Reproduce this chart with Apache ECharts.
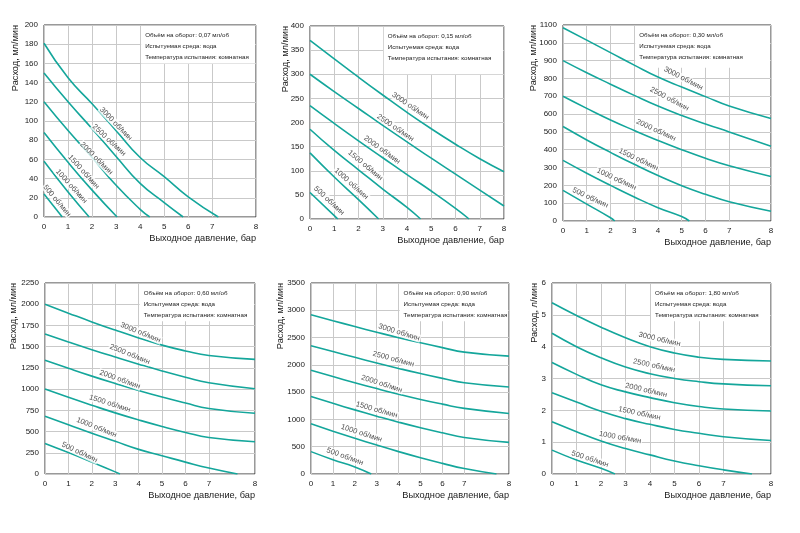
<!DOCTYPE html>
<html>
<head>
<meta charset="utf-8">
<script src="https://cdn.jsdelivr.net/npm/echarts@6/dist/echarts.min.js"></script>
<style>
  html, body { margin: 0; background: #fff; }
  #chart { width: 800px; height: 533px; }
</style>
</head>
<body>
<div id="chart"></div>
<script>
// --- data -------------------------------------------------------------
const pressureTicks = [0, 1, 2, 3, 4, 5, 6, 7, 8];
const speeds = [500, 1000, 1500, 2000, 2500, 3000];
const volumes = ['0,07', '0,15', '0,30', '0,60', '0,90', '1,80'];
const flowUnits = ['мл/мин', 'мл/мин', 'мл/мин', 'мл/мин', 'мл/мин', 'л/мин'];
const yMaxes = [200, 400, 1100, 2250, 3500, 6];
const ySteps = [20, 50, 100, 250, 500, 1];

// flow read at pressure 0, 1, 2 … bar, one row per speed (500 … 3000 об/мин)
const flow007 = [[24], [58, 26], [88, 57, 28], [120, 90, 62, 33, 8],
  [150, 120, 92, 63, 35, 15], [181, 145, 118, 90, 62, 42, 21]];
const flow015 = [[55, 7], [137, 87, 40], [186, 142, 102, 62, 24],
  [235, 198, 162, 127, 92, 58, 22],
  [300, 264, 229, 194, 160, 126, 93, 60, 27],
  [370, 332, 294, 257, 221, 187, 155, 125, 98]];
const flow030 = [[172, 95, 18], [340, 268, 200, 135, 75, 25],
  [530, 455, 385, 318, 255, 198, 150, 108, 55],
  [700, 632, 567, 508, 452, 400, 352, 310, 250],
  [900, 832, 768, 705, 645, 592, 545, 500, 420],
  [1085, 1015, 945, 875, 808, 752, 698, 645, 575]];
const flow060 = [[360, 252, 140, 25], [680, 580, 480, 385, 290, 215, 140, 70],
  [1000, 903, 810, 720, 637, 560, 490, 430, 380],
  [1340, 1245, 1153, 1066, 983, 906, 836, 772, 715],
  [1650, 1556, 1465, 1378, 1294, 1214, 1140, 1075, 1005],
  [2000, 1895, 1792, 1695, 1603, 1518, 1450, 1395, 1350]];
const flow090 = [[410, 262, 130], [920, 785, 655, 530, 410, 298, 195, 100],
  [1420, 1295, 1175, 1060, 950, 848, 755, 670, 580],
  [1900, 1785, 1673, 1565, 1462, 1366, 1280, 1202, 1110],
  [2350, 2243, 2138, 2035, 1935, 1840, 1752, 1672, 1595],
  [2920, 2810, 2702, 2598, 2498, 2404, 2316, 2234, 2160]];
const flow180 = [[0.75, 0.44, 0.18], [1.64, 1.33, 1.04, 0.8, 0.6, 0.41, 0.26, 0.13],
  [2.55, 2.26, 1.97, 1.74, 1.56, 1.4, 1.28, 1.17, 1.05],
  [3.5, 3.13, 2.8, 2.58, 2.4, 2.24, 2.12, 2.04, 1.98],
  [4.42, 4.0, 3.65, 3.36, 3.15, 3.0, 2.9, 2.83, 2.77],
  [5.38, 4.98, 4.61, 4.28, 4.0, 3.8, 3.67, 3.6, 3.55]];

// pressure (bar) where each curve reaches zero flow, null = stays above 0
const zero007 = [0.76, 1.88, 3.04, 4.4, 5.79, 7.14];
const zero015 = [1.15, 2.83, 4.56, 6.56, null, null];
const zero030 = [2.18, 5.32, null, null, null, null];
const zero060 = [3.2, 7.62, null, null, null, null];
const zero090 = [2.75, 7.72, null, null, null, null];
const zero180 = [2.57, 7.6, null, null, null, null];

const flows = [flow007, flow015, flow030, flow060, flow090, flow180];
const zeros = [zero007, zero015, zero030, zero060, zero090, zero180];

// --- layout -------------------------------------------------------------
// the 7..8 bar span is drawn wider than the others in the original, xEnd
// is where "8" sits in units of one ordinary span
const layout = [
  { grid: [44, 25, 212, 192], xEnd: 8.82, box: [4, 160], nameDx: 29,
    tags: [[0.54, 17, -50], [1.14, 32, -48], [1.65, 47, -48], [2.18, 61, -45], [2.71, 80, -43], [2.99, 97, -46]] },
  { grid: [310, 26, 194, 193], xEnd: 8.0, box: [3, 300], nameDx: 25,
    tags: [[0.79, 38, -43], [1.7, 73, -42], [2.28, 111, -40], [2.97, 143, -36], [3.52, 189, -34], [4.14, 234, -34]] },
  { grid: [563, 25, 208, 196], xEnd: 8.76, box: [3, 860], nameDx: 30,
    tags: [[1.15, 130, -25], [2.25, 235, -25], [3.18, 345, -25], [3.92, 510, -25], [4.48, 685, -28], [5.07, 800, -27]] },
  { grid: [45, 283, 210, 191], xEnd: 8.97, box: [4, 1800], nameDx: 32,
    tags: [[1.48, 255, -25], [2.2, 548, -22], [2.77, 830, -18], [3.2, 1113, -20], [3.62, 1410, -22], [4.08, 1665, -22]] },
  { grid: [311, 283, 198, 191], xEnd: 9.04, box: [4, 2800], nameDx: 31,
    tags: [[1.55, 318, -20], [2.31, 747, -18], [3.0, 1175, -16], [3.23, 1652, -18], [3.76, 2105, -15], [4.02, 2595, -17]] },
  { grid: [552, 283, 219, 191], xEnd: 8.94, box: [4, 4.8], nameDx: 18,
    tags: [[1.55, 0.47, -18], [2.78, 1.15, -10], [3.57, 1.9, -12], [3.84, 2.63, -13], [4.17, 3.4, -12], [4.39, 4.23, -13]] },
];

const FONT = "'Liberation Sans', Arial, sans-serif";
const TEAL = '#14a69b';
const INK = '#1a1a1a';

const toAxis = (p, xEnd) => (p <= 7 ? p : 7 + (p - 7) * (xEnd - 7));

const grids = [], xAxes = [], yAxes = [], series = [], graphics = [];

layout.forEach((lay, i) => {
  const [left, top, width, height] = lay.grid;
  const yMax = yMaxes[i];
  const tickValues = pressureTicks.map((p) => toAxis(p, lay.xEnd));

  grids.push({ left, top, width, height, show: true, borderColor: '#333', borderWidth: 1, outerBoundsMode: 'none' });

  xAxes.push({
    gridIndex: i, type: 'value', min: 0, max: lay.xEnd,
    name: 'Выходное давление, бар', nameLocation: 'end', nameGap: 0,
    nameTextStyle: { fontSize: 9.2, color: INK, align: 'right', verticalAlign: 'top', padding: [17, 0, 0, 0] },
    axisLine: { show: false },
    axisTick: { show: false, customValues: tickValues },
    axisLabel: {
      customValues: tickValues, fontSize: 8, color: INK, margin: 6,
      formatter: (v) => String(pressureTicks[tickValues.findIndex((t) => Math.abs(t - v) < 1e-6)]),
    },
    splitLine: { lineStyle: { color: '#c9c9c9', width: 1 } },
  });

  yAxes.push({
    gridIndex: i, type: 'value', min: 0, max: yMax, interval: ySteps[i],
    axisLine: { show: false },
    axisTick: { show: false },
    axisLabel: { fontSize: 8, color: INK, margin: 6, formatter: (v) => String(v) },
    splitLine: { lineStyle: { color: '#c9c9c9', width: 1 } },
  });

  // y axis title, rotated, hanging down from the top of the frame
  graphics.push({
    type: 'text', x: left - lay.nameDx, y: top, rotation: Math.PI / 2, silent: true,
    style: { text: 'Расход, ' + flowUnits[i], font: '9.2px ' + FONT, fill: INK, align: 'right', verticalAlign: 'middle' },
  });

  speeds.forEach((speed, k) => {
    const vals = flows[i][k];
    const pts = vals.map((v, j) => [toAxis(pressureTicks[j], lay.xEnd), v]);
    if (zeros[i][k] != null) pts.push([toAxis(zeros[i][k], lay.xEnd), 0]);
    series.push({
      type: 'line', name: speed + ' об/мин', xAxisIndex: i, yAxisIndex: i,
      data: pts, showSymbol: false, smooth: 0.5,
      lineStyle: { color: TEAL, width: 1.6 }, silent: true, z: 2,
    });
  });

  // one px in data units, keeps the white note box inside the frame
  const px = lay.xEnd / width, py = yMax / height;
  series.push({
    type: 'scatter', xAxisIndex: i, yAxisIndex: i, symbolSize: 0, silent: true, z: 4,
    data: lay.tags.map((t, k) => ({ name: speeds[k] + ' об/мин', value: [t[0], t[1]], label: { rotate: t[2] } })),
    label: {
      show: true, position: 'inside', formatter: '{b}', fontSize: 7.5, color: INK,
      backgroundColor: '#fff', padding: [0, 1],
    },
    markArea: {
      silent: true,
      itemStyle: { color: '#fff', opacity: 1 },
      label: {
        show: true, position: 'insideTopLeft', distance: 4, color: INK, fontSize: 6.2, lineHeight: 11,
        formatter: 'Объём на оборот: ' + volumes[i] + ' мл/об\nИспытуемая среда: вода\nТемпература испытания: комнатная',
      },
      data: [[
        { xAxis: lay.box[0] + px, yAxis: lay.box[1] },
        { xAxis: lay.xEnd - px, yAxis: yMax - py },
      ]],
    },
  });
});

const chart = echarts.init(document.getElementById('chart'), null, { renderer: 'canvas' });
chart.setOption({
  animation: false,
  textStyle: { fontFamily: FONT },
  grid: grids,
  xAxis: xAxes,
  yAxis: yAxes,
  graphic: graphics,
  series,
});
</script>
</body>
</html>
